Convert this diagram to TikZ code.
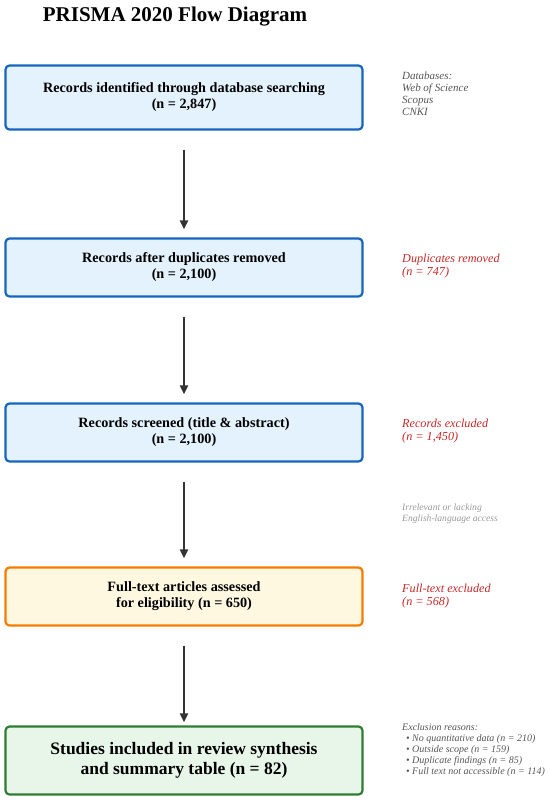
\documentclass[tikz,border=0pt]{standalone}
\usepackage{fontspec}
\setmainfont{Liberation Serif}
\usetikzlibrary{arrows.meta}

\definecolor{blueedge}{HTML}{1565C0}
\definecolor{bluefill}{HTML}{E3F2FD}
\definecolor{orangeedge}{HTML}{F57C00}
\definecolor{orangefill}{HTML}{FFF8E1}
\definecolor{greenedge}{HTML}{2E7D32}
\definecolor{greenfill}{HTML}{E8F5E9}
\definecolor{notered}{HTML}{C62828}
\definecolor{notegray}{HTML}{555555}
\definecolor{arrowgray}{HTML}{333333}

\begin{document}
\begin{tikzpicture}[x=1pt,y=-1pt]
    \tikzstyle{stagebox}=[rectangle,rounded corners=4pt,line width=2.2pt,minimum width=357pt,align=center,font=\fontsize{14.2}{16}\selectfont\bfseries]
    \tikzstyle{flowarrow}=[-{Triangle[length=9pt,width=8pt]},line width=2.5pt,draw=arrowgray,shorten <=19pt,shorten >=8pt]
    \tikzstyle{sidenote}=[anchor=north west,align=left,inner sep=0pt,font=\fontsize{11}{12}\selectfont\itshape,text=notegray]
    \tikzstyle{excludenote}=[anchor=north west,align=left,inner sep=0pt,font=\fontsize{12.2}{13}\selectfont\itshape,text=notered]
    \useasboundingbox (0,0) rectangle (550,803);

    \node[font=\fontsize{21}{24}\selectfont\bfseries] (title) at (175,17) {PRISMA 2020 Flow Diagram};

    % stages
    \node[stagebox, draw=blueedge, fill=bluefill, minimum height=64pt] (ident) at (184,97.5) {Records identified through database searching\\(n = 2,847)};
    \node[stagebox, draw=blueedge, fill=bluefill, minimum height=58pt] (dedup) at (184,267.5) {Records after duplicates removed\\(n = 2,100)};
    \node[stagebox, draw=blueedge, fill=bluefill, minimum height=58pt] (screen) at (184,432.5) {Records screened (title \& abstract)\\(n = 2,100)};
    \node[stagebox, draw=orangeedge, fill=orangefill, minimum height=58pt] (elig) at (184,596.5) {Full-text articles assessed\\for eligibility (n = 650)};
    \node[stagebox, draw=greenedge, fill=greenfill, minimum height=68pt, font=\fontsize{17.5}{20}\selectfont\bfseries] (incl) at (184,760.5) {Studies included in review synthesis\\and summary table (n = 82)};

    % notes on the right
    \node[sidenote] (dbs) at (402,72) {Databases:\\Web of Science\\Scopus\\CNKI};
    \node[excludenote] (dupnote) at (402,254) {Duplicates removed\\(n = 747)};
    \node[excludenote] (scrnote) at (402,419) {Records excluded\\(n = 1,450)};
    \node[sidenote, font=\fontsize{9.6}{11}\selectfont\itshape, text=gray!80] (irrnote) at (402,504) {Irrelevant or lacking\\English-language access};
    \node[excludenote] (ftnote) at (402,584) {Full-text excluded\\(n = 568)};
    \node[sidenote, font=\fontsize{10}{11}\selectfont\itshape] (reasons) at (402,723) {Exclusion reasons:\\
        \hspace*{4pt}\textbullet\ No quantitative data (n = 210)\\
        \hspace*{4pt}\textbullet\ Outside scope (n = 159)\\
        \hspace*{4pt}\textbullet\ Duplicate findings (n = 85)\\
        \hspace*{4pt}\textbullet\ Full text not accessible (n = 114)};

    % arrows
    \draw[flowarrow] (ident) -- (dedup);
    \draw[flowarrow] (dedup) -- (screen);
    \draw[flowarrow] (screen) -- (elig);
    \draw[flowarrow, shorten >=3pt] (elig) -- (incl);

\end{tikzpicture}
\end{document}
